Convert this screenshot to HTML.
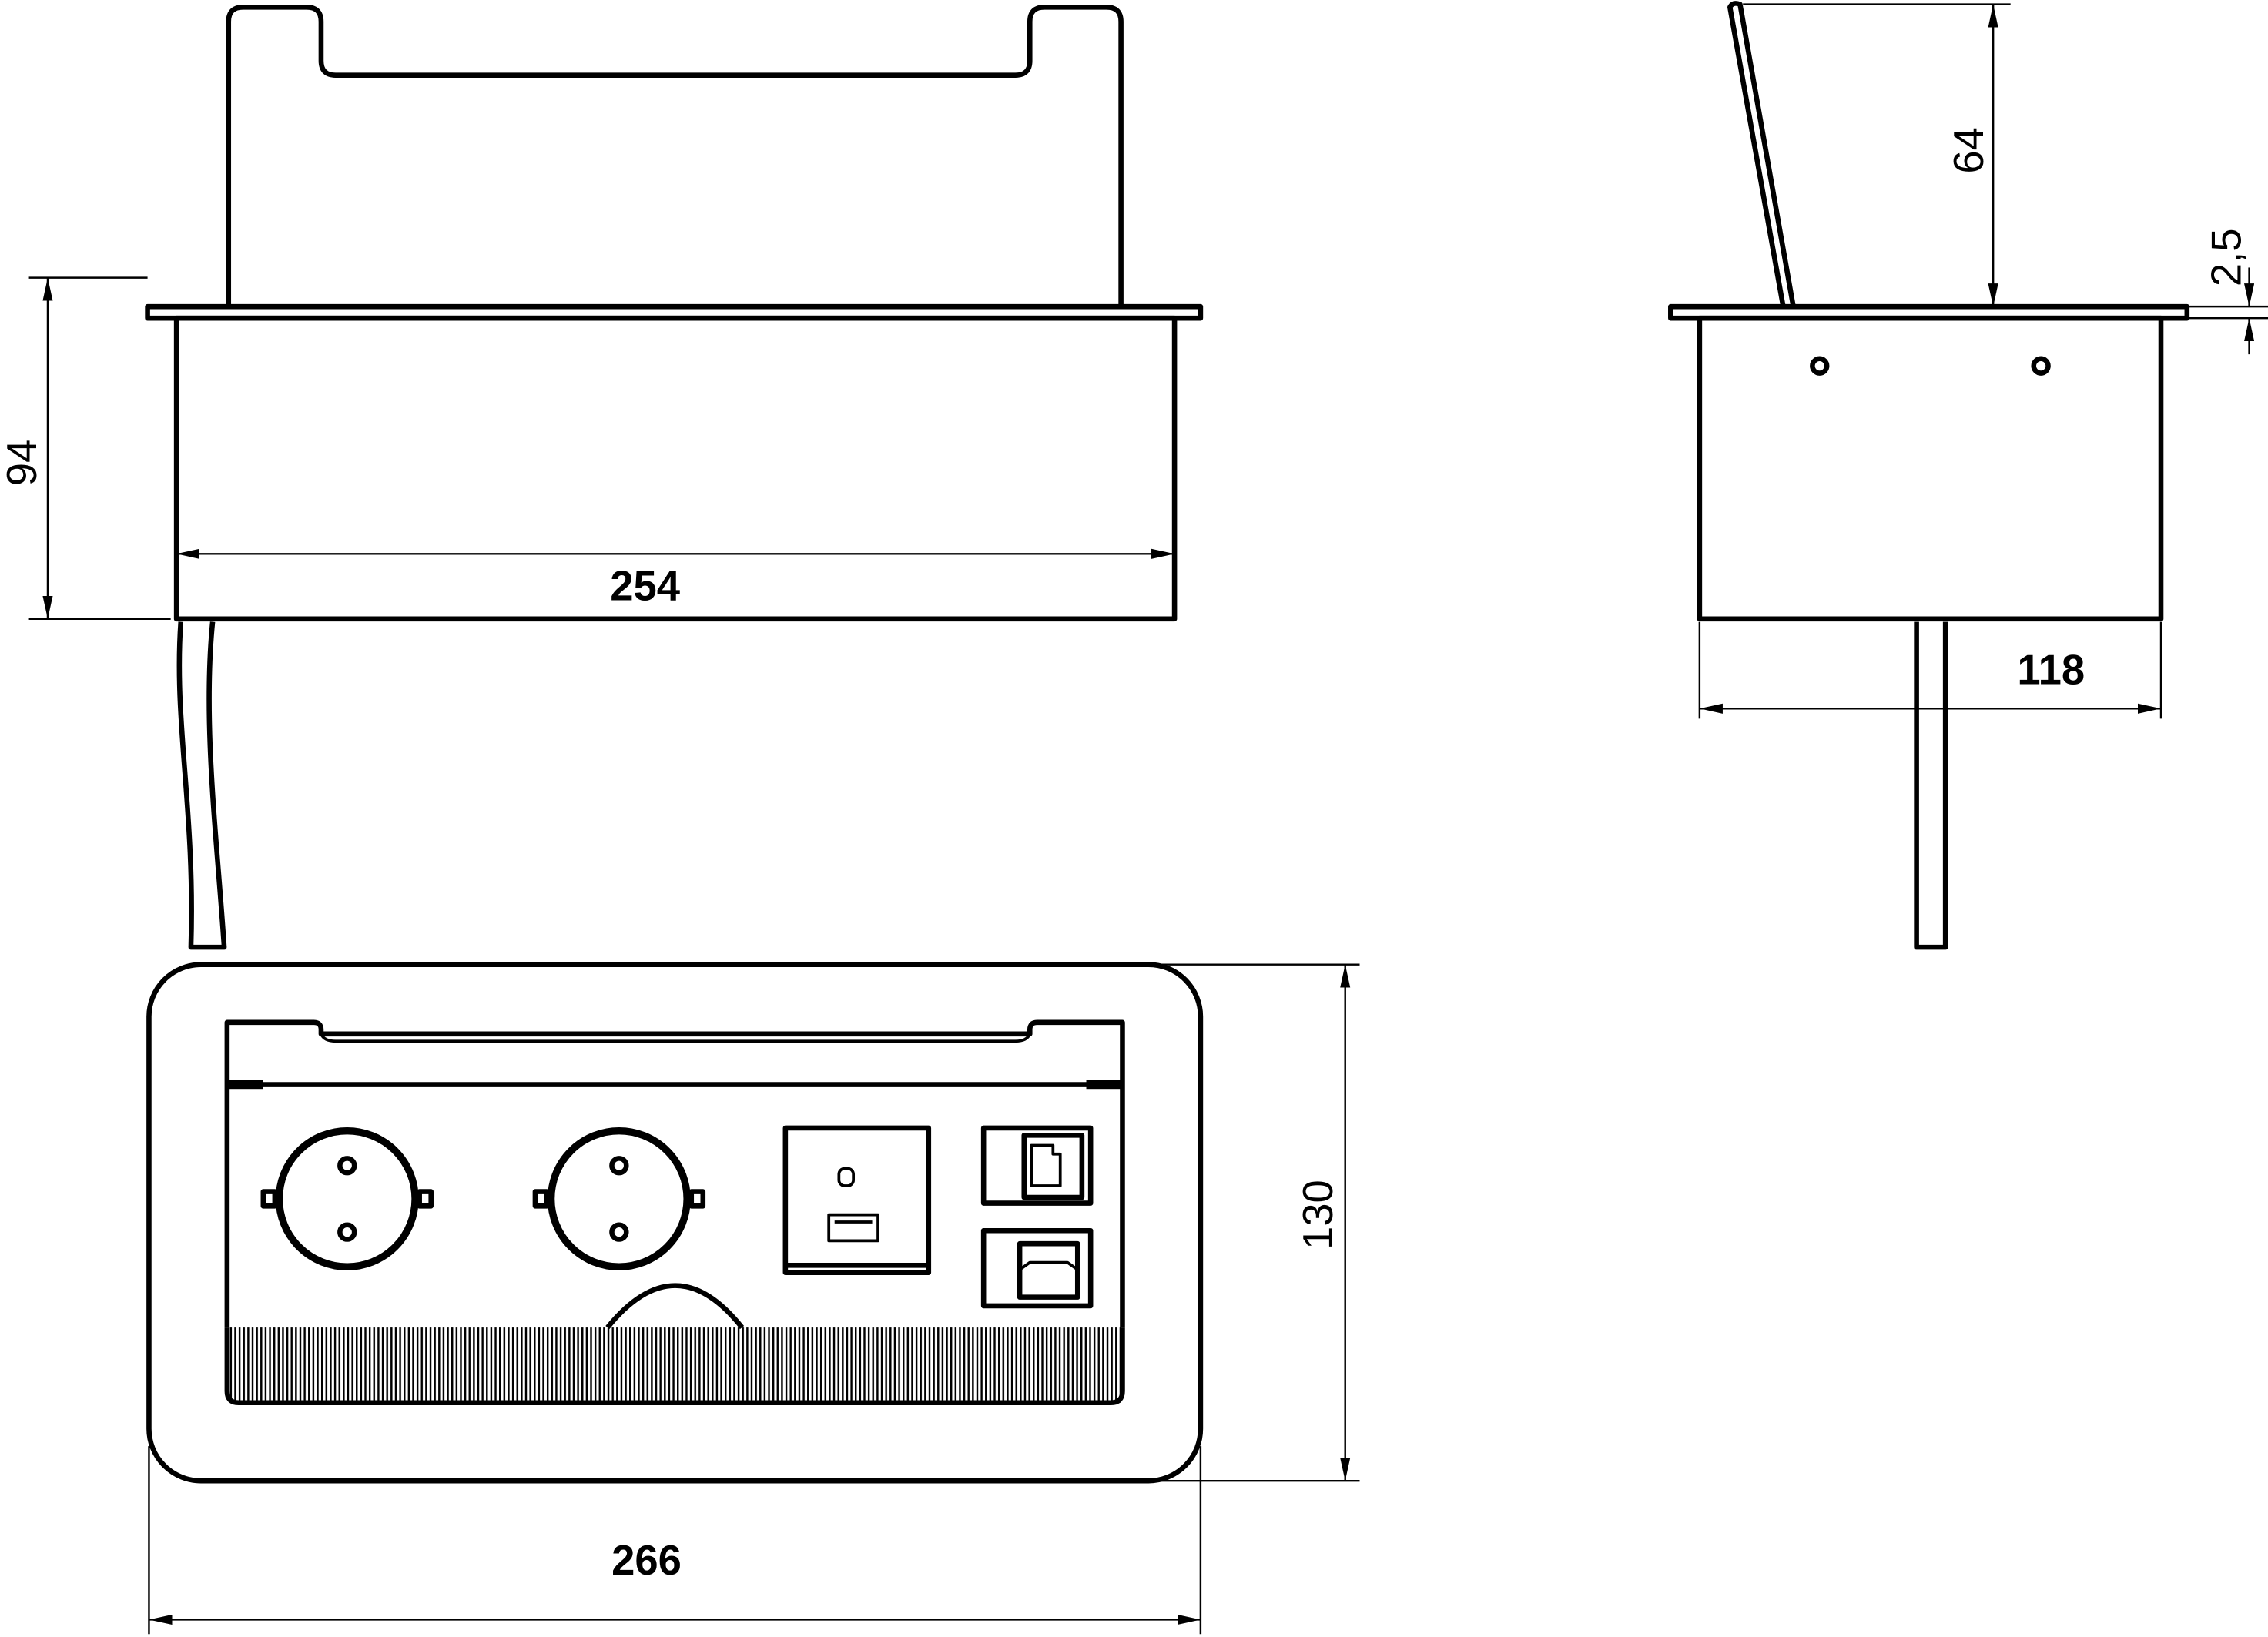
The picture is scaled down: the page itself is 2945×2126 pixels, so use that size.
<!DOCTYPE html>
<html><head><style>html,body{margin:0;padding:0;background:#fff}svg{display:block}</style></head>
<body>
<svg width="2945" height="2126" viewBox="0 0 1568 1132" preserveAspectRatio="none" xmlns="http://www.w3.org/2000/svg">
<defs>
<marker id="a" viewBox="0 0 16 7" refX="16" refY="3.5" markerWidth="16" markerHeight="7" orient="auto-start-reverse" markerUnits="userSpaceOnUse"><path d="M0,0 L16,3.5 L0,7 z" fill="#000"/></marker>
<pattern id="br" width="3" height="10" patternUnits="userSpaceOnUse"><rect width="3" height="10" fill="#fff"/><rect width="1.3" height="10" fill="#000"/></pattern>
</defs>
<g fill="none" stroke="#000" stroke-width="3.5" stroke-linejoin="round">
<path d="M158,213 V15 Q158,5 168,5 H212 Q222,5 222,15 V42 Q222,52 232,52 H702 Q712,52 712,42 V15 Q712,5 722,5 H765 Q775,5 775,15 V213"/>
<rect x="102" y="212" width="728" height="8"/>
<rect x="122" y="220" width="690" height="208"/>
<path d="M125,430 C120,500 135,560 132,655 L155,655 C150,580 140,500 147,430"/>
</g>
<g stroke="#000" stroke-width="1.3" fill="none">
<line x1="20" y1="192" x2="102" y2="192"/><line x1="20" y1="428" x2="118" y2="428"/>
<line x1="33" y1="192" x2="33" y2="428" marker-start="url(#a)" marker-end="url(#a)"/>
<line x1="122" y1="383" x2="812" y2="383" marker-start="url(#a)" marker-end="url(#a)"/>
</g>
<g font-family="Liberation Sans, sans-serif" font-size="29" fill="#000">
<text x="446" y="415" text-anchor="middle" font-weight="bold">254</text>
<text transform="translate(25,320) rotate(-90)" text-anchor="middle">94</text>
<text transform="translate(1371,104) rotate(-90)" text-anchor="middle">64</text>
<text transform="translate(1549,178) rotate(-90)" text-anchor="middle">2,5</text>
<text x="1418" y="473" text-anchor="middle" font-weight="bold">118</text>
<text transform="translate(921,840) rotate(-90)" text-anchor="middle">130</text>
<text x="447" y="1089" text-anchor="middle" font-weight="bold">266</text>
</g>
<g fill="none" stroke="#000" stroke-width="3.5" stroke-linejoin="round">
<path d="M1233,213 L1196,5 Q1198,1 1203,3 L1240,213"/>
<rect x="1155" y="212" width="357" height="8"/>
<rect x="1175" y="220" width="319" height="208"/>
<circle cx="1258" cy="253" r="5"/><circle cx="1411" cy="253" r="5"/>
<path d="M1325,430 V655 H1345 V430"/>
</g>
<g stroke="#000" stroke-width="1.3" fill="none">
<line x1="1205" y1="3" x2="1390" y2="3"/>
<line x1="1378" y1="3" x2="1378" y2="212" marker-start="url(#a)" marker-end="url(#a)"/>
<line x1="1512" y1="212" x2="1568" y2="212"/><line x1="1512" y1="220" x2="1568" y2="220"/>
<line x1="1555" y1="185" x2="1555" y2="212" marker-end="url(#a)"/>
<line x1="1555" y1="245" x2="1555" y2="220" marker-end="url(#a)"/>
<line x1="1175" y1="430" x2="1175" y2="497"/><line x1="1494" y1="430" x2="1494" y2="497"/>
<line x1="1175" y1="490" x2="1494" y2="490" marker-start="url(#a)" marker-end="url(#a)"/>
</g>
<rect x="158" y="918" width="617" height="52" fill="url(#br)"/>
<g fill="none" stroke="#000" stroke-width="3.5" stroke-linejoin="round">
<rect x="103" y="667" width="727" height="357" rx="36"/>
<path d="M157,918 V707 H217 Q222,707 222,712 V715 H712 V712 Q712,707 717,707 H776 V918"/>
<path d="M157,918 V962 Q157,970 165,970 H768 Q776,970 776,962 V918"/>
<line x1="157" y1="750" x2="776" y2="750"/>
<path d="M222,715 Q224,720 232,720 H702 Q710,720 712,715" stroke-width="2"/>
<path d="M420,918 Q467,860 513,918"/>
<circle cx="240" cy="829" r="47" stroke-width="5"/>
<circle cx="240" cy="806" r="5"/><circle cx="240" cy="852" r="5"/>
<rect x="182" y="824" width="8" height="10"/><rect x="290" y="824" width="8" height="10"/>
<circle cx="428" cy="829" r="47" stroke-width="5"/>
<circle cx="428" cy="806" r="5"/><circle cx="428" cy="852" r="5"/>
<rect x="370" y="824" width="8" height="10"/><rect x="478" y="824" width="8" height="10"/>
<rect x="543" y="780" width="99" height="100"/>
<line x1="543" y1="875" x2="642" y2="875"/>
<rect x="580" y="808" width="10" height="12" rx="4" stroke-width="2"/>
<rect x="573" y="840" width="34" height="18" stroke-width="2"/>
<line x1="577" y1="845" x2="603" y2="845" stroke-width="2"/>
<rect x="680" y="780" width="74" height="52"/>
<rect x="708" y="785" width="40" height="43"/>
<path d="M713,792 H728 V798 H733 V820 H713 z" stroke-width="2"/>
<rect x="680" y="851" width="74" height="52"/>
<rect x="705" y="860" width="40" height="37"/>
<path d="M705,878 L712,873 H738 L745,878" stroke-width="2"/>
</g>
<rect x="157" y="747" width="25" height="6" fill="#000"/><rect x="751" y="747" width="25" height="6" fill="#000"/>
<g stroke="#000" stroke-width="1.3" fill="none">
<line x1="800" y1="667" x2="940" y2="667"/><line x1="800" y1="1024" x2="940" y2="1024"/>
<line x1="930" y1="667" x2="930" y2="1024" marker-start="url(#a)" marker-end="url(#a)"/>
<line x1="103" y1="1000" x2="103" y2="1130"/><line x1="830" y1="1000" x2="830" y2="1130"/>
<line x1="103" y1="1120" x2="830" y2="1120" marker-start="url(#a)" marker-end="url(#a)"/>
</g>
</svg>
</body></html>
